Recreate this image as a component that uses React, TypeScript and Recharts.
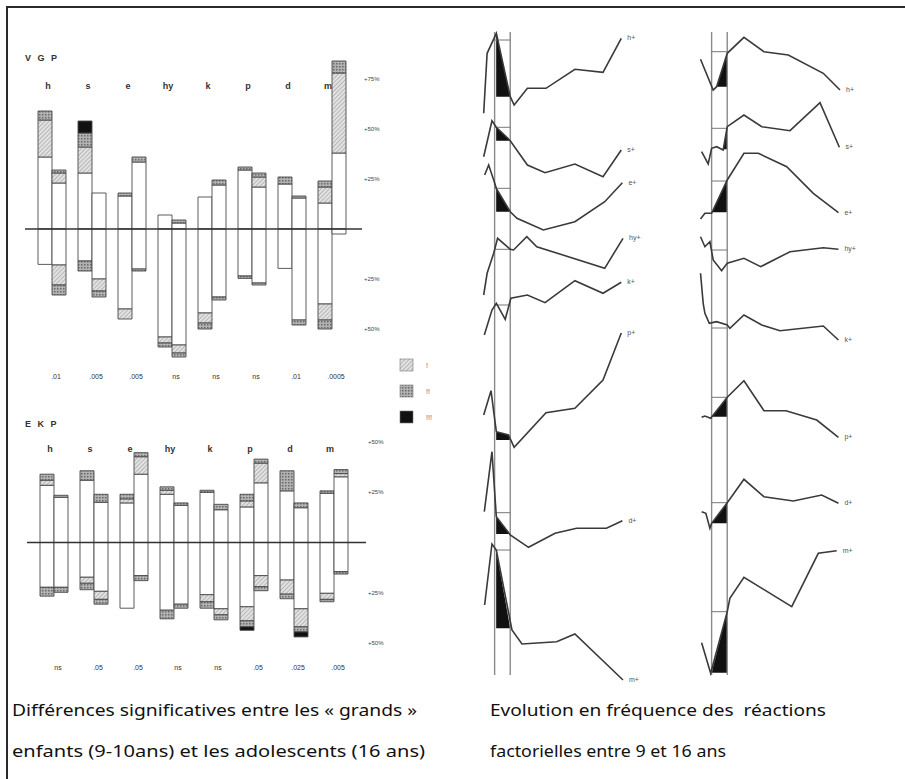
import React from 'react';
import { ComposedChart, Bar, Line, Area, XAxis, YAxis, ReferenceLine, LabelList } from 'recharts';

const factors = ['h', 's', 'e', 'hy', 'k', 'p', 'd', 'm'];
const vgpSig = ['.01', '.005', '.005', 'ns', 'ns', 'ns', '.01', '.0005'];
const ekpSig = ['ns', '.05', '.05', 'ns', 'ns', '.05', '.025', '.005'];
const levelNames = ['!', '!!', '!!!'];

// % per bar, split into [white, !, !!, !!!] above (Up) and below (Dn) the zero line
// "Enf" = 9-10 years (left bar of each pair), "Ado" = 16 years (right bar)
const vgpEnfUp = [[36, 18.5, 4.5, 0], [28, 13, 7, 6], [16.5, 0, 1.5, 0], [7, 0, 0, 0], [16, 0, 0, 0], [29.5, 0, 1.5, 0], [22.5, 0, 3.5, 0], [13, 8, 3, 0]];
const vgpEnfDn = [[17.7, 0, 0, 0], [16, 0, 5, 0], [40, 5, 0, 0], [54, 3, 2, 0], [42, 5, 3, 0], [23.5, 0, 1.2, 0], [19.7, 0, 0, 0], [37.5, 8, 4.5, 0]];
const vgpAdoUp = [[23, 5, 1.5, 0], [18, 0, 0, 0], [33.5, 0, 2.5, 0], [3, 0, 1.5, 0], [22, 0, 2.5, 0], [21, 5, 2, 0], [15.5, 0, 1, 0], [38, 40, 6, 0]];
const vgpAdoDn = [[18, 10, 5, 0], [25, 6, 3, 0], [20, 0, 1, 0], [58, 4, 2, 0], [34, 0, 1.5, 0], [27, 0, 1, 0], [45.5, 0, 2.5, 0], [2.5, 0, 0, 0]];

const ekpEnfUp = [[28.5, 2.5, 3, 0], [31, 0, 4.7, 0], [19.7, 2, 2.3, 0], [24, 2, 1.7, 0], [25, 0, 1, 0], [17.7, 3, 3.3, 0], [25.7, 0, 10, 0], [24.5, 0, 1.2, 0]];
const ekpEnfDn = [[22.3, 0, 4.4, 0], [17.3, 3, 3.2, 0], [32.7, 0, 0, 0], [33.7, 0, 4.3, 0], [26, 3.5, 3.2, 0], [32, 7, 3, 1.7], [18.7, 7, 2.3, 0], [25.3, 3, 1.2, 0]];
const ekpAdoUp = [[22.5, 0, 1, 0], [20, 0, 4, 0], [34, 8.7, 2, 0], [18.5, 0, 1.2, 0], [16.3, 0, 2.7, 0], [29.7, 9.8, 2, 0], [17.3, 0, 2.4, 0], [32.7, 1.6, 2, 0]];
const ekpAdoDn = [[22.3, 0, 2.5, 0], [24.3, 4, 2.4, 0], [16.5, 0, 2.5, 0], [30.7, 0, 2, 0], [33, 3, 2.5, 0], [16.5, 5.5, 2, 0], [33, 9, 2.5, 2.5], [14.5, 0, 1.2, 0]];

// frequency profiles: [age, value relative to the row baseline]
const leftH = [[8.3, -16.6], [8.52, 43.4], [9.11, 63.4], [10, 0], [10.25, -8.3], [11.1, 8.4], [12.29, 8.4], [14.14, 27.4], [15.94, 24.4], [17.11, 58.4]];
const leftS = [[8.3, -16], [8.83, 20], [9.11, 13.4], [10, 0], [11.1, -24.3], [12.23, -32], [14.14, -23.3], [15.94, -36], [17.11, -9.3]];
const leftE = [[8.36, 36.7], [8.62, 46.7], [8.94, 31.7], [9.11, 23.4], [10, 0], [10.43, -6.6], [12.12, -18.3], [14.14, -10], [16.05, 10], [17.18, 29]];
const leftHy = [[8.3, -45.7], [8.52, -24], [8.94, -4], [9.19, 11], [10, 0], [10.21, -0.7], [11.06, 12.6], [11.7, 2.6], [16.05, -19], [17.22, 11]];
const leftK = [[8.34, -30], [8.83, -5], [9.11, 1.7], [9.68, -14.3], [10.04, 6.7], [11.1, 10], [12.23, 2.3], [14.14, 24.3], [15.94, 11.7], [17.11, 22.7]];
const leftP = [[8.3, 25], [8.77, 49.3], [8.94, 28.3], [9.11, 8.3], [9.89, 5], [10.25, -7.3], [12.29, 27.3], [14.14, 31.7], [15.94, 60], [17.11, 107]];
const leftD = [[8.34, 22.3], [8.83, 82.3], [9.11, 17.3], [10, -1], [11.17, -13.3], [12.87, 0.7], [14.25, 5.7], [16.16, 5.7], [17.18, 13.3]];
const leftM = [[8.36, 23.3], [8.83, 84.3], [9.11, 78.3], [10.11, -1.7], [10.75, -15.7], [12.97, -13.4], [14.14, -5.7], [17.22, -51.7]];

const rightH = [[8.29, 27.4], [9.1, -3.3], [9.32, 0], [10, 33.4], [11.07, 49.4], [12.35, 35], [13.91, 31.7], [16.15, 13.4], [17.22, -3.3]];
const rightS = [[8.36, -2.4], [8.78, -14.7], [9.0, 1], [9.32, 2.6], [9.74, -0.7], [10, 22.6], [11.07, 34.3], [12.21, 22.6], [14.02, 18.6], [15.94, 46.6], [17.18, 2]];
const rightE = [[8.29, -6.7], [8.57, -1], [9.0, -1], [10, 32.3], [11.07, 59], [11.99, 59], [13.81, 45.6], [15.51, 19], [17.12, -0.4]];
const rightHy = [[8.29, 13.3], [8.57, 3.3], [8.89, 8.3], [9.1, -10], [9.64, -20.7], [10, -13.3], [11.07, -8.3], [12.14, -16.7], [14.02, -1.7], [16.15, 2.3], [17.12, 0.7]];
const rightK = [[8.29, 54.7], [8.46, 24.7], [8.57, 14.7], [8.85, 4.7], [9.32, 6.3], [10, 3], [10.17, -0.3], [11.07, 13], [12.21, 3], [13.38, -2.7], [16.15, 2], [17.12, -12]];
const rightP = [[8.36, -0.6], [8.57, 0.7], [8.94, -1.6], [10, 19.4], [11.07, 36], [12.35, 6], [13.76, 6], [15.73, -3.3], [17.12, -20.6]];
const rightD = [[8.36, 11.6], [8.63, 10], [8.89, -5], [9.0, 0], [10, 20.6], [11.07, 44], [12.35, 26.6], [14.23, 22.3], [16.05, 28.3], [17.12, 20]];
const rightM = [[8.36, 30], [8.94, -0.6], [10, 61], [10.17, 74.4], [11.07, 95.4], [14.13, 66], [15.83, 119.4], [17.01, 122]];

// significant part (black wedge) inside the 9-10 band
const leftTri = [[[9.1, 63.4], [10, 0]], [[9.1, 13.4], [10, 0]], [[9.1, 23.4], [10, 0]], null, null, [[9.1, 8.3], [9.89, 5], [10, 1.2]], [[9.1, 17.3], [10, 0]], [[9.1, 78.3], [10, 0]]];
const rightTri = [[[9.32, 0], [10, 33.4]], [[9.74, 0], [10, 22.6]], [[9, 0], [10, 32.3]], null, null, [[9, 0], [10, 19.4]], [[9, 0], [10, 20.6]], [[9, 0], [10, 61]]];
const leftMarks = [56.7, 13.4, 23.4, 0, 0, null, 21.3, 78.3];
const rightMarks = [35, 21, 31.3, 0, 0, 19.4, 20.6, 61];

const leftProfiles = [leftH, leftS, leftE, leftHy, leftK, leftP, leftD, leftM];
const rightProfiles = [rightH, rightS, rightE, rightHy, rightK, rightP, rightD, rightM];

// layout: row baselines inside each column
const leftBase = [578.3, 534.3, 463.3, 425.7, 370, 235, 141, 46.7];
const rightBase = [588.3, 525.7, 462.7, 425, 347, 258.3, 151.7, 2.3];

const FONT = '"Liberation Sans", Arial, sans-serif';
const TEXT_FONT = '"Noto Sans", sans-serif';
const LV = ['w', 'l', 'm', 'b'];
const LV_FILL: Record<string, string> = { w: '#ffffff', l: 'url(#hatchLight)', m: 'url(#hatchMid)', b: '#111111' };

function buildRows(upA: number[][], dnA: number[][], upB: number[][], dnB: number[][]) {
  return factors.map((f, i) => {
    const row: any = { f };
    LV.forEach((lv, j) => {
      row[`a_u${lv}`] = upA[i][j];
      row[`a_d${lv}`] = -dnA[i][j];
      row[`b_u${lv}`] = upB[i][j];
      row[`b_d${lv}`] = -dnB[i][j];
    });
    return row;
  });
}

const vgpRows = buildRows(vgpEnfUp, vgpEnfDn, vgpAdoUp, vgpAdoDn);
const ekpRows = buildRows(ekpEnfUp, ekpEnfDn, ekpAdoUp, ekpAdoDn);

type FactorChartProps = {
  rows: any[];
  sig: string[];
  title: string;
  top: number;
  height: number;
  marginTop: number;
  marginLeft: number;
  axisW: number;
  padL: number;
  padR: number;
  domain: [number, number];
  ticks: number[];
  catY: number;
  titleY: number;
  sigMargin: number;
};

function FactorChart(p: FactorChartProps) {
  return (
    <div style={{ position: 'absolute', left: 0, top: p.top }}>
      <ComposedChart
        width={395}
        height={p.height}
        data={p.rows}
        stackOffset="sign"
        barGap={0}
        margin={{ top: p.marginTop, right: 0, bottom: 1, left: p.marginLeft }}
      >
        <text x={25} y={p.titleY} fontSize={9} fontWeight="bold" fill="#333" letterSpacing={2} fontFamily={FONT}>
          {p.title}
        </text>
        <XAxis
          xAxisId="cat"
          orientation="top"
          dataKey="f"
          height={1}
          axisLine={false}
          tickLine={false}
          interval={0}
          padding={{ left: p.padL, right: p.padR }}
          tick={(t: any) => (
            <text x={t.x - 4} y={p.catY} textAnchor="middle" fontSize={9} fontWeight="bold" fill="#333" fontFamily={FONT}>
              {t.payload.value}
            </text>
          )}
        />
        <XAxis
          xAxisId="sig"
          dataKey="f"
          height={24}
          axisLine={false}
          tickLine={false}
          interval={0}
          tickMargin={p.sigMargin}
          padding={{ left: p.padL, right: p.padR }}
          tickFormatter={(_v: any, i: number) => p.sig[i]}
          tick={{ fontSize: 7, fill: '#333', dx: 4, fontFamily: FONT }}
        />
        <YAxis
          orientation="right"
          type="number"
          domain={p.domain}
          ticks={p.ticks}
          interval={0}
          width={p.axisW}
          axisLine={false}
          tickLine={false}
          tick={{ fontSize: 6, fill: '#444', dx: -6, fontFamily: FONT }}
          tickFormatter={(v: number) => `+${Math.abs(v)}%`}
        />
        {['a', 'b'].map((g) =>
          ['u', 'd'].map((dir) =>
            LV.map((lv) => (
              <Bar
                key={`${g}_${dir}${lv}`}
                xAxisId="sig"
                dataKey={`${g}_${dir}${lv}`}
                stackId={g}
                barSize={14}
                fill={LV_FILL[lv]}
                stroke="#4a4a4a"
                strokeWidth={0.9}
                isAnimationActive={false}
              />
            ))
          )
        )}
        <ReferenceLine xAxisId="sig" y={0} stroke="#333" strokeWidth={1.5} />
      </ComposedChart>
    </div>
  );
}

type ColumnProps = {
  left: number;
  profiles: number[][][];
  tris: (number[][] | null)[];
  marks: (number | null)[];
  bases: number[];
};

function ProfileColumn({ left, profiles, tris, marks, bases }: ColumnProps) {
  const lineColor = '#3a3a3a';
  return (
    <div style={{ position: 'absolute', left, top: 22 }}>
      <ComposedChart width={180} height={667} margin={{ top: 10, right: 27, bottom: 6, left: 9 }}>
        <XAxis type="number" dataKey="x" domain={[8, 17.2]} hide />
        <YAxis type="number" domain={[-8, 643]} hide />
        <ReferenceLine segment={[{ x: 9, y: 0 }, { x: 9, y: 643 }]} stroke="#8a8a8a" strokeWidth={1.4} />
        <ReferenceLine segment={[{ x: 10, y: 0 }, { x: 10, y: 643 }]} stroke="#8a8a8a" strokeWidth={1.4} />
        {marks.map((m, i) =>
          m === null ? null : (
            <ReferenceLine
              key={`mk${i}`}
              segment={[{ x: 9, y: bases[i] + m }, { x: 10, y: bases[i] + m }]}
              stroke="#777"
              strokeWidth={1}
            />
          )
        )}
        {tris.map((t, i) =>
          t === null ? null : (
            <Area
              key={`tr${i}`}
              data={t.map(([x, v]) => ({ x, r: [bases[i], bases[i] + v] }))}
              dataKey="r"
              type="linear"
              fill="#111"
              fillOpacity={1}
              stroke="none"
              isAnimationActive={false}
            />
          )
        )}
        {profiles.map((pts, i) => (
          <Line
            key={`ln${i}`}
            data={pts.map(([x, v]) => ({ x, y: bases[i] + v }))}
            dataKey="y"
            type="linear"
            stroke={lineColor}
            strokeWidth={1.6}
            dot={false}
            isAnimationActive={false}
          >
            <LabelList
              dataKey="y"
              content={(lp: any) =>
                lp.index === pts.length - 1 ? (
                  <text x={lp.x + 6} y={lp.y + 2} fontSize={7} fill="#555" fontFamily={FONT}>
                    {factors[i] + '+'}
                  </text>
                ) : null
              }
            />
          </Line>
        ))}
      </ComposedChart>
    </div>
  );
}

export default function App() {
  const legendY = [359, 385, 411];
  const legendFill = ['url(#hatchLight)', 'url(#hatchMid)', '#111'];
  return (
    <div style={{ position: 'absolute', left: 0, top: 0, width: 905, height: 779, overflow: 'hidden', background: '#fff', fontFamily: FONT }}>
      <svg width={905} height={779} style={{ position: 'absolute', left: 0, top: 0 }}>
        <defs>
          <pattern id="hatchLight" width="3" height="3" patternUnits="userSpaceOnUse" patternTransform="rotate(45)">
            <rect width="3" height="3" fill="#e2e2e2" />
            <line x1="0" y1="0" x2="0" y2="3" stroke="#8c8c8c" strokeWidth="1" />
          </pattern>
          <pattern id="hatchMid" width="3" height="3" patternUnits="userSpaceOnUse">
            <rect width="3" height="3" fill="#b2b2b2" />
            <rect width="1.5" height="1.5" fill="#6a6a6a" />
          </pattern>
        </defs>
        <path d="M7,779 V7 H905" fill="none" stroke="#2b2b2b" strokeWidth={2} />
        {legendY.map((y, i) => (
          <g key={i}>
            <rect x={400} y={y} width={13} height={12} fill={legendFill[i]} stroke="#777" strokeWidth={0.6} />
            <text x={426} y={y + 8.5} fontSize={7} fill="#666" fontFamily={FONT}>
              {levelNames[i]}
            </text>
          </g>
        ))}
        <text x={12} y={716} fontSize={15.5} fill="#111" textLength={405} lengthAdjust="spacingAndGlyphs" fontFamily={TEXT_FONT}>
          Différences significatives entre les « grands »
        </text>
        <text x={12} y={757} fontSize={15.5} fill="#111" textLength={413} lengthAdjust="spacingAndGlyphs" fontFamily={TEXT_FONT}>
          enfants (9-10ans) et les adolescents (16 ans)
        </text>
        <text x={490} y={716} fontSize={15.5} fill="#111" textLength={336} lengthAdjust="spacingAndGlyphs" fontFamily={TEXT_FONT} style={{ whiteSpace: 'pre' }}>
          Evolution en fréquence des  réactions
        </text>
        <text x={490} y={757} fontSize={15.5} fill="#111" textLength={236} lengthAdjust="spacingAndGlyphs" fontFamily={TEXT_FONT}>
          factorielles entre 9 et 16 ans
        </text>
      </svg>

      <FactorChart
        rows={vgpRows}
        sig={vgpSig}
        title="V G P"
        top={0}
        height={390}
        marginTop={38}
        marginLeft={25}
        axisW={33}
        padL={7}
        padR={10}
        domain={[-68, 95]}
        ticks={[75, 50, 25, -25, -50]}
        catY={88.5}
        titleY={61}
        sigMargin={3.5}
      />
      <FactorChart
        rows={ekpRows}
        sig={ekpSig}
        title="E K P"
        top={395}
        height={285}
        marginTop={36}
        marginLeft={27}
        axisW={29}
        padL={7}
        padR={12}
        domain={[-56, 55]}
        ticks={[50, 25, -25, -50]}
        catY={56.5}
        titleY={31.5}
        sigMargin={4.5}
      />

      <ProfileColumn left={470} profiles={leftProfiles} tris={leftTri} marks={leftMarks} bases={leftBase} />
      <ProfileColumn left={687} profiles={rightProfiles} tris={rightTri} marks={rightMarks} bases={rightBase} />
    </div>
  );
}
